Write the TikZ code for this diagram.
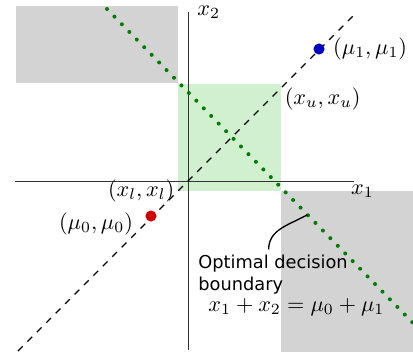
\documentclass[tikz,border=0pt]{standalone}
\usepackage{fontspec}
\newfontfamily\annotfont{DejaVu Sans}
\usepackage{amsmath}
\usetikzlibrary{positioning}
\definecolor{regiongray}{HTML}{D3D3D3}
\definecolor{regiongreen}{HTML}{D0F0D0}
\definecolor{boundgreen}{HTML}{007A00}
\definecolor{axisgray}{HTML}{333333}
\definecolor{dotred}{HTML}{D00000}
\definecolor{dotblue}{HTML}{0000C0}
\tikzset{
  region/.style={fill=#1, draw=none},
  axisline/.style={draw=axisgray, line width=0.45pt},
  diagline/.style={dashed, line width=0.6pt},
  boundline/.style={draw=boundgreen, line width=1.8pt, line cap=round,
    dash pattern=on 0pt off 4.8pt},
  meandot/.style={circle, fill=#1, inner sep=0pt, minimum size=5pt},
  ptlabel/.style={inner sep=1.5pt},
  annot/.style={font=\annotfont\fontsize{8}{9.8}\selectfont, align=left,
    inner sep=0pt},
}

\begin{document}
\begin{tikzpicture}[x=0.45pt, y=0.45pt]
  \useasboundingbox (-188,-177) rectangle (225,181);

  % regions
  \fill[region=regiongray] (-172,98) rectangle (-10,175);
  \fill[region=regiongray] (93,-10) rectangle (225,-171);
  \fill[region=regiongreen] (-10,-10) rectangle (93,97);
  \coordinate (xl) at (-10,-10);
  \coordinate (xu) at (93,97);

  % axes
  \coordinate (x1start) at (-173,0);
  \coordinate (x1end) at (166,0);
  \coordinate (x2start) at (0,-169);
  \coordinate (x2end) at (0,169);
  \draw[axisline] (x1start) -- (x1end);
  \draw[axisline] (x2start) -- (x2end);
  \node[ptlabel, anchor=north west, xshift=-3pt] (x1lab) at (x1end) {$x_1$};
  \node[ptlabel, anchor=west, xshift=2.5pt] (x2lab) at (x2end) {$x_2$};

  % diagonal x1 = x2
  \coordinate (diagstart) at (-170,-170);
  \coordinate (diagend) at (166,166);
  \draw[diagline] (diagstart) -- (diagend);

  % decision boundary
  \coordinate (bstart) at (-81,172);
  \coordinate (bend) at (225,-142);
  \draw[boundline] (bstart) -- coordinate[pos=0.655] (bdpt) (bend);

  % class means
  \node[meandot=dotred] (mu0) at (-37,-35) {};
  \node[meandot=dotblue] (mu1) at (131,132) {};
  \node[ptlabel, right=2pt of mu1] (mu1lab) {$(\mu_1,\mu_1)$};
  \node[ptlabel, below left=-5pt and 4.5pt of mu0] (mu0lab) {$(\mu_0,\mu_0)$};

  % corners of the box
  \node[ptlabel, anchor=north west] (xulab) at (xu) {$(x_u,x_u)$};
  \node[ptlabel, anchor=east] (xllab) at (xl) {$(x_l,x_l)$};

  % annotation
  \node[annot, anchor=north west] (bdlabel) at (10,-74) {Optimal decision\\boundary};
  \node[inner sep=0pt, anchor=base west] (bdeq) at (20,-130) {$x_1+x_2=\mu_0+\mu_1$};
  \draw[line width=0.6pt] (bdpt) to[out=-150, in=90] ([xshift=-2pt, yshift=2.5pt]bdlabel.north);
\end{tikzpicture}
\end{document}
